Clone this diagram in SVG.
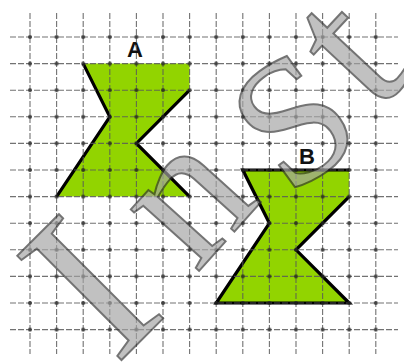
<svg xmlns="http://www.w3.org/2000/svg" width="404" height="362" viewBox="0 0 404 362">
<style>
.gl{stroke:#5a5a5a;stroke-width:1.1;stroke-dasharray:6 2}
.fill{fill:#92d400;stroke:none}
.edge{fill:none;stroke:#000;stroke-width:3.2;stroke-linejoin:miter}
.lbl{font-family:"Liberation Sans",Arial,sans-serif;font-weight:bold;font-size:22px;fill:#111;text-anchor:middle}
.wm{font-family:"Liberation Serif","Times New Roman",serif;fill:#a4a4a4;stroke:#333;stroke-width:2;text-anchor:middle;opacity:0.68}
</style>
<defs>
<pattern id="dots" x="30" y="37" width="26.6" height="26.6" patternUnits="userSpaceOnUse">
<circle cx="0" cy="0" r="2" fill="#222"/><circle cx="26.6" cy="0" r="2" fill="#222"/><circle cx="0" cy="26.6" r="2" fill="#222"/><circle cx="26.6" cy="26.6" r="2" fill="#222"/>
</pattern>
</defs>
<rect width="404" height="362" fill="#fff"/>
<g id="shapes">
<g id="A">
<polygon class="fill" points="83.2,63.6 189.6,63.6 189.6,90.2 136.4,143.4 189.6,196.6 56.6,196.6 109.8,116.8"/>
<polyline class="edge" points="83.2,63.6 109.8,116.8 56.6,196.6"/>
<polyline class="edge" points="189.6,90.2 136.4,143.4 189.6,196.6"/>
<text class="lbl" x="135" y="57">A</text>
</g>
<g id="B">
<polygon class="fill" points="242.8,170 349.2,170 349.2,196.6 296,249.8 349.2,303 216.2,303 269.4,223.2"/>
<polyline class="edge" points="349.2,170 242.8,170 269.4,223.2 216.2,303 349.2,303 296,249.8 349.2,196.6"/>
<text class="lbl" x="307" y="164">B</text>
</g>
</g>
<g id="grid" opacity="0.85">
<line class="gl" x1="30" y1="13" x2="30" y2="354"/>
<line class="gl" x1="56.6" y1="13" x2="56.6" y2="354"/>
<line class="gl" x1="83.2" y1="13" x2="83.2" y2="354"/>
<line class="gl" x1="109.8" y1="13" x2="109.8" y2="354"/>
<line class="gl" x1="136.4" y1="13" x2="136.4" y2="354"/>
<line class="gl" x1="163" y1="13" x2="163" y2="354"/>
<line class="gl" x1="189.6" y1="13" x2="189.6" y2="354"/>
<line class="gl" x1="216.2" y1="13" x2="216.2" y2="354"/>
<line class="gl" x1="242.8" y1="13" x2="242.8" y2="354"/>
<line class="gl" x1="269.4" y1="13" x2="269.4" y2="354"/>
<line class="gl" x1="296" y1="13" x2="296" y2="354"/>
<line class="gl" x1="322.6" y1="13" x2="322.6" y2="354"/>
<line class="gl" x1="349.2" y1="13" x2="349.2" y2="354"/>
<line class="gl" x1="375.8" y1="13" x2="375.8" y2="354"/>
<line class="gl" x1="10" y1="37" x2="398" y2="37"/>
<line class="gl" x1="10" y1="63.6" x2="398" y2="63.6"/>
<line class="gl" x1="10" y1="90.2" x2="398" y2="90.2"/>
<line class="gl" x1="10" y1="116.8" x2="398" y2="116.8"/>
<line class="gl" x1="10" y1="143.4" x2="398" y2="143.4"/>
<line class="gl" x1="10" y1="170" x2="398" y2="170"/>
<line class="gl" x1="10" y1="196.6" x2="398" y2="196.6"/>
<line class="gl" x1="10" y1="223.2" x2="398" y2="223.2"/>
<line class="gl" x1="10" y1="249.8" x2="398" y2="249.8"/>
<line class="gl" x1="10" y1="276.4" x2="398" y2="276.4"/>
<line class="gl" x1="10" y1="303" x2="398" y2="303"/>
<line class="gl" x1="10" y1="329.6" x2="398" y2="329.6"/>
<rect x="28" y="35" width="350" height="297" fill="url(#dots)"/>
</g>
<g id="watermark">
<text class="wm" font-size="225" transform="translate(90,287) rotate(-45)" x="0" y="74">I</text>
<text class="wm" font-size="200" transform="translate(196,207) rotate(-48)" x="0" y="45">n</text>
<text class="wm" font-size="180" transform="translate(293,120) rotate(-36)" x="0" y="60">S</text>
<text class="wm" font-size="205" transform="translate(352,54) rotate(-47)" x="0" y="58">t</text>
</g>
</svg>
